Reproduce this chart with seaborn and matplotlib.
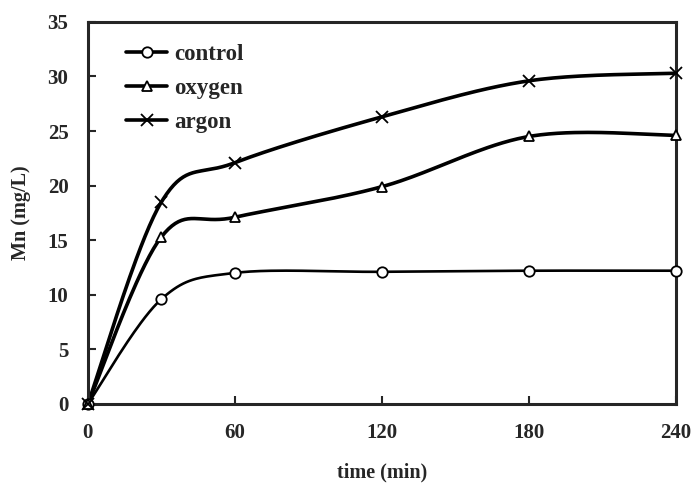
import numpy as np
import pandas as pd
import matplotlib
matplotlib.use("Agg")
import matplotlib.pyplot as plt
from matplotlib.lines import Line2D
import seaborn as sns

time_min = [0, 30, 60, 120, 180, 240]
control = [0, 9.6, 12.0, 12.1, 12.2, 12.2]
oxygen = [0, 15.3, 17.1, 19.9, 24.5, 24.6]
argon = [0, 18.5, 22.1, 26.3, 29.6, 30.3]

series_names = ["control", "oxygen", "argon"]
series_values = [control, oxygen, argon]
markers = ["o", "^", "x"]
widths = [1.9, 2.6, 2.6]


def smooth_curve(x, y, sx, sy, n=40):
    # Excel-like smoothed line: Catmull-Rom bezier in display-like units
    px = np.asarray(x, float) * sx
    py = np.asarray(y, float) * sy
    pts = np.column_stack([px, py])
    out = []
    for i in range(len(pts) - 1):
        p0 = pts[i - 1] if i > 0 else pts[i]
        p1 = pts[i]
        p2 = pts[i + 1]
        p3 = pts[i + 2] if i + 2 < len(pts) else pts[i + 1]
        c1 = p1 + (p2 - p0) / 6.0
        c2 = p2 - (p3 - p1) / 6.0
        t = np.linspace(0, 1, n)[:, None]
        b = ((1 - t) ** 3) * p1 + 3 * ((1 - t) ** 2) * t * c1 + 3 * (1 - t) * t ** 2 * c2 + t ** 3 * p2
        out.append(b if i == 0 else b[1:])
    out = np.vstack(out)
    return out[:, 0] / sx, out[:, 1] / sy


sns.set_style("ticks")
plt.rcParams['font.family'] = ['Liberation Serif', 'DejaVu Serif']
plt.rcParams['font.weight'] = 'bold'

fig = plt.figure(figsize=(6.92, 4.86), dpi=100)
ax = fig.add_axes([0.127, 0.169, 0.850, 0.786])

handles = []
for name, vals, mk, lw in zip(series_names, series_values, markers, widths):
    xs, ys = smooth_curve(time_min, vals, 588 / 240, 10.94)
    df_line = pd.DataFrame({"time": xs, "Mn": ys})
    sns.lineplot(data=df_line, x="time", y="Mn", ax=ax, color="black",
                 linewidth=lw, sort=False, estimator=None, zorder=2)
    df_pts = pd.DataFrame({"time": time_min, "Mn": vals})
    if mk == "x":
        ax.plot(df_pts["time"], df_pts["Mn"], linestyle="none", marker="x",
                markersize=9, markeredgewidth=1.3, color="black", zorder=3,
                clip_on=False)
    else:
        ax.plot(df_pts["time"], df_pts["Mn"], linestyle="none", marker=mk,
                markersize=7.5, markerfacecolor="white", markeredgecolor="black",
                markeredgewidth=1.3, zorder=3, clip_on=False)
    handles.append(Line2D([0], [0], color="black", linewidth=2.6, marker=mk,
                          markersize=7.5 if mk != "x" else 9,
                          markerfacecolor="white", markeredgecolor="black",
                          markeredgewidth=1.3, label=name))

ax.set_xlim(0, 240)
ax.set_ylim(0, 35)
ax.set_xticks([0, 60, 120, 180, 240])
ax.set_yticks(np.arange(0, 36, 5))
ax.tick_params(direction="in", length=6, width=1.5, labelsize=15, pad=14)
for lab in ax.get_xticklabels() + ax.get_yticklabels():
    lab.set_fontweight("bold")
for sp in ax.spines.values():
    sp.set_visible(True)
    sp.set_linewidth(2.2)

ax.set_xlabel("time (min)", fontsize=14.5, fontweight="bold", labelpad=14)
ax.set_ylabel("Mn (mg/L)", fontsize=14.5, fontweight="bold", labelpad=12)

leg = ax.legend(handles=handles, loc="upper left", frameon=False,
                bbox_to_anchor=(0.03, 0.995), handlelength=1.8,
                handletextpad=0.3, labelspacing=0.55,
                prop={"family": "Liberation Serif", "weight": "bold", "size": 16.5})

fig.savefig("out.png", dpi=100)
